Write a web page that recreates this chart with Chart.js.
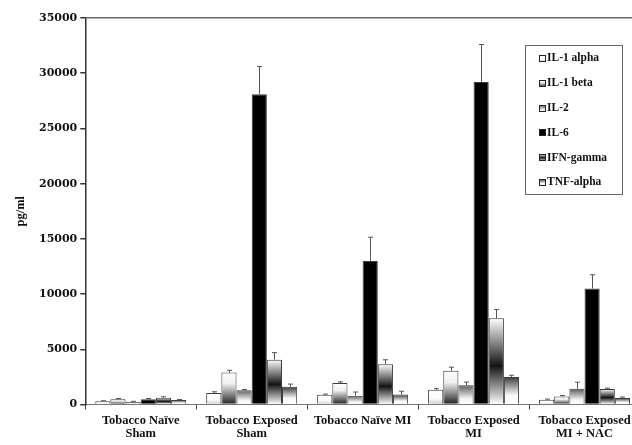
<!DOCTYPE html>
<html lang="en">
  <head>
    <meta charset="UTF-8" />
    <title>Cytokines</title>
    <script src="https://cdn.jsdelivr.net/npm/chart.js"></script>
    <style>
      html, body { margin: 0; padding: 0; background: #fff; overflow: hidden; }
      #wrap { width: 642px; height: 445px; }
    </style>
  </head>
  <body>
    <div id="wrap"><canvas id="myChart" width="642" height="445"></canvas></div>

    <script>
      // groups on the x axis
      const groups = [
        ["Tobacco Naïve", "Sham"],
        ["Tobacco Exposed", "Sham"],
        "Tobacco Naïve MI",
        ["Tobacco Exposed", "MI"],
        ["Tobacco Exposed", "MI + NAC"],
      ];
      const cytokines = ["IL-1 alpha", "IL-1 beta", "IL-2", "IL-6", "IFN-gamma", "TNF-alpha"];

      // mean values, pg/ml
      const il1alpha = [300, 1050, 880, 1330, 420];
      const il1beta = [480, 2900, 1950, 3050, 720];
      const il2 = [250, 1300, 800, 1750, 1420];
      const il6 = [480, 28100, 13000, 29200, 10500];
      const ifnGamma = [620, 4050, 3650, 7800, 1400];
      const tnfAlpha = [400, 1600, 900, 2500, 580];

      // error bars (upper only)
      const il1alphaErr = [40, 100, 60, 100, 70];
      const il1betaErr = [60, 200, 100, 330, 90];
      const il2Err = [40, 60, 330, 280, 600];
      const il6Err = [60, 2500, 2150, 3400, 1250];
      const ifnGammaErr = [80, 650, 400, 800, 80];
      const tnfAlphaErr = [50, 250, 300, 150, 100];

      const yTicks = [0, 5000, 10000, 15000, 20000, 25000, 30000, 35000];

      // gradient stops per series (top -> bottom of the bar)
      const fills = [
        [[0, "#ffffff"], [0.6, "#fafafa"], [1, "#c8c8c8"]],
        [[0, "#ffffff"], [0.35, "#f0f0f0"], [1, "#1e1e1e"]],
        [[0, "#5a5a5a"], [0.7, "#f4f4f4"], [1, "#ffffff"]],
        [[0, "#000000"], [1, "#000000"]],
        [[0, "#ffffff"], [0.55, "#141414"], [1, "#ffffff"]],
        [[0, "#3a3a3a"], [0.65, "#f8f8f8"], [1, "#ffffff"]],
      ];

      function barFill(stops) {
        return (ctx) => {
          const chart = ctx.chart;
          const y = chart.scales.y;
          if (!y || ctx.type !== "data") return stops[0][1];
          const top = y.getPixelForValue(ctx.raw);
          const bottom = y.getPixelForValue(0);
          if (!isFinite(top) || !isFinite(bottom)) return stops[0][1];
          const g = chart.ctx.createLinearGradient(0, top, 0, bottom + 0.01);
          stops.forEach((s) => g.addColorStop(s[0], s[1]));
          return g;
        };
      }

      const values = [il1alpha, il1beta, il2, il6, ifnGamma, tnfAlpha];
      const errors = [il1alphaErr, il1betaErr, il2Err, il6Err, ifnGammaErr, tnfAlphaErr];

      const datasets = cytokines.map((name, i) => ({
        label: name,
        data: values[i],
        errors: errors[i],
        backgroundColor: barFill(fills[i]),
        borderColor: "#3c3c3c",
        borderWidth: 1,
        barPercentage: 1.0,
        categoryPercentage: 0.82,
      }));

      const errorBars = {
        id: "errorBars",
        afterDatasetsDraw(chart) {
          const c = chart.ctx;
          const y = chart.scales.y;
          c.save();
          c.strokeStyle = "#555";
          c.lineWidth = 1;
          chart.data.datasets.forEach((ds, i) => {
            chart.getDatasetMeta(i).data.forEach((bar, j) => {
              const top = y.getPixelForValue(ds.data[j] + ds.errors[j]);
              const x = Math.round(bar.x) + 0.5;
              c.beginPath();
              c.moveTo(x, bar.y);
              c.lineTo(x, top);
              c.moveTo(x - 2.5, top);
              c.lineTo(x + 2.5, top);
              c.stroke();
            });
          });
          c.restore();
        },
      };

      const boxLegend = {
        id: "boxLegend",
        afterDraw(chart) {
          const c = chart.ctx;
          const left = 525, top = 45, w = 97, h = 149;
          c.save();
          c.fillStyle = "#fff";
          c.fillRect(left, top, w, h);
          c.strokeStyle = "#666";
          c.lineWidth = 1;
          c.strokeRect(left + 0.5, top + 0.5, w, h);
          c.font = "bold 11.5px 'Liberation Serif'";
          c.textBaseline = "middle";
          cytokines.forEach((name, i) => {
            const cy = top + 13.5 + i * 24.8;
            const bx = 539, by = Math.round(cy - 3.5), bs = 7;
            const g = c.createLinearGradient(0, by, 0, by + bs);
            fills[i].forEach((s) => g.addColorStop(s[0], s[1]));
            c.fillStyle = g;
            c.fillRect(bx, by, bs, bs);
            c.strokeStyle = "#222";
            c.strokeRect(bx + 0.5, by + 0.5, bs - 1, bs - 1);
            c.fillStyle = "#111";
            c.fillText(name, 547, cy);
          });
          c.restore();
        },
      };

      const config = {
        type: "bar",
        data: { labels: groups, datasets: datasets },
        options: {
          responsive: false,
          animation: false,
          layout: { padding: { top: 18, right: 2, left: 13, bottom: 0 } },
          plugins: { legend: { display: false }, tooltip: { enabled: false } },
          scales: {
            x: {
              grid: { display: true, drawOnChartArea: false, tickLength: 5, tickColor: "#444" },
              border: { color: "#777", width: 1 },
              ticks: {
                color: "#111",
                autoSkip: false,
                maxRotation: 0,
                padding: 4,
                font: { family: "'Liberation Serif'", weight: "bold", size: 12.5, lineHeight: 1.1 },
              },
            },
            y: {
              min: 0,
              max: 35000,
              afterBuildTicks: (axis) => {
                axis.ticks = yTicks.map((v) => ({ value: v }));
              },
              grid: {
                color: (ctx) => (ctx.tick && ctx.tick.value === 35000 ? "#666" : "rgba(0,0,0,0)"),
                lineWidth: 1.5,
                tickLength: 5,
                tickColor: "#333",
              },
              border: { color: "#333", width: 1.5 },
              ticks: {
                color: "#111",
                padding: 3,
                callback: (v) => String(v),
                font: { family: "'DejaVu Serif'", weight: "bold", size: 11 },
              },
              title: {
                display: true,
                text: "pg/ml",
                color: "#111",
                padding: { top: 0, bottom: 8 },
                font: { family: "'Liberation Serif'", weight: "bold", size: 12.5 },
              },
            },
          },
        },
        plugins: [errorBars, boxLegend],
      };

      const myChart = new Chart(document.getElementById("myChart"), config);
    </script>
  </body>
</html>
